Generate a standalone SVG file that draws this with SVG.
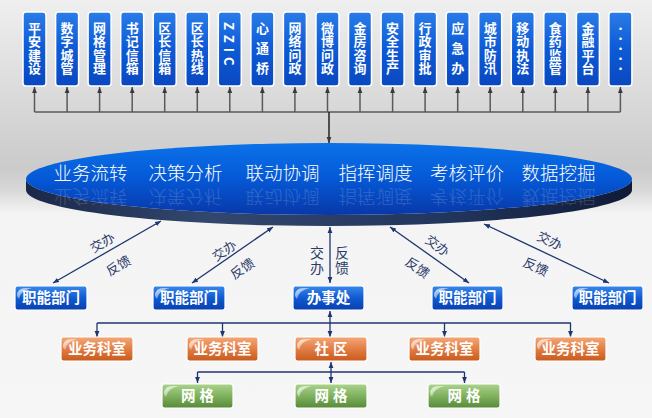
<svg xmlns="http://www.w3.org/2000/svg" width="652" height="418" viewBox="0 0 652 418">
<defs>
<linearGradient id="bg" x1="0" y1="0" x2="0" y2="1">
<stop offset="0" stop-color="#efefef"/>
<stop offset="0.40" stop-color="#cbcbcb"/>
<stop offset="0.45" stop-color="#d6d6d6"/>
<stop offset="0.51" stop-color="#f4f4f4"/>
<stop offset="1" stop-color="#f6f6f6"/>
</linearGradient>
<linearGradient id="gTop" x1="0" y1="0" x2="0" y2="1">
<stop offset="0" stop-color="#2a7ce8"/>
<stop offset="0.5" stop-color="#0d5ad6"/>
<stop offset="1" stop-color="#0a48c0"/>
</linearGradient>
<linearGradient id="gBlue" x1="0" y1="0" x2="0" y2="1">
<stop offset="0" stop-color="#3a88ea"/>
<stop offset="0.5" stop-color="#0f5ad2"/>
<stop offset="1" stop-color="#0a3fae"/>
</linearGradient>
<linearGradient id="gOrange" x1="0" y1="0" x2="0" y2="1">
<stop offset="0" stop-color="#f4a878"/>
<stop offset="0.5" stop-color="#e27d44"/>
<stop offset="1" stop-color="#c85a1c"/>
</linearGradient>
<linearGradient id="gGreen" x1="0" y1="0" x2="0" y2="1">
<stop offset="0" stop-color="#abd48c"/>
<stop offset="0.5" stop-color="#7fb15e"/>
<stop offset="1" stop-color="#558a38"/>
</linearGradient>
<linearGradient id="gDisc" x1="0" y1="0" x2="0" y2="1">
<stop offset="0" stop-color="#0a72ea"/>
<stop offset="0.5" stop-color="#0558d6"/>
<stop offset="1" stop-color="#0838a8"/>
</linearGradient>
<linearGradient id="gRim" x1="0" y1="0" x2="1" y2="0">
<stop offset="0" stop-color="#1a2848"/>
<stop offset="0.3" stop-color="#33476e"/>
<stop offset="0.7" stop-color="#22355c"/>
<stop offset="1" stop-color="#0f1a36"/>
</linearGradient>
<linearGradient id="gloss" x1="0" y1="0" x2="1" y2="1">
<stop offset="0" stop-color="#ffffff" stop-opacity="0.85"/>
<stop offset="1" stop-color="#ffffff" stop-opacity="0"/>
</linearGradient>
<marker id="ag" viewBox="0 0 10 10" refX="10" refY="5" markerWidth="6" markerHeight="6" orient="auto-start-reverse" markerUnits="userSpaceOnUse">
<path d="M0,1 L10,5 L0,9 z" fill="#3a3a3a"/>
</marker>
<marker id="ab" viewBox="0 0 10 10" refX="10" refY="5" markerWidth="6" markerHeight="6" orient="auto-start-reverse" markerUnits="userSpaceOnUse">
<path d="M0,1 L10,5 L0,9 z" fill="#1e3570"/>
</marker>
<style>
.top rect.b{fill:url(#gTop);stroke:#ffffff;stroke-width:1.5}
.top text{fill:#ffffff;font-family:"Noto Sans CJK SC","Liberation Sans",sans-serif;font-weight:bold;font-size:13px;writing-mode:vertical-rl;letter-spacing:0.5px}
.top text.w{letter-spacing:7px}
.box rect.b{stroke:#ffffff;stroke-width:1.2}
.box text{fill:#ffffff;font-family:"Noto Sans CJK SC","Liberation Sans",sans-serif;font-weight:bold;font-size:14.5px;text-anchor:middle}
.blue rect.b{fill:url(#gBlue)}
.orange rect.b{fill:url(#gOrange)}
.green rect.b{fill:url(#gGreen)}
.gl{fill:url(#gloss)}
.disc text{fill:#ffffff;font-family:"Noto Sans CJK SC","Liberation Sans",sans-serif;font-weight:300;font-size:18.5px;text-anchor:middle}
.gray{stroke:#5a5a5a;stroke-width:1.5;fill:none}
.lk{stroke:#1e3570;stroke-width:1.3;fill:none}
.lbl{fill:#2a3a6a;font-family:"Noto Sans CJK SC","Liberation Sans",sans-serif;font-size:13px;text-anchor:middle;dominant-baseline:central}
.vl{fill:#2a3a6a;font-family:"Noto Sans CJK SC","Liberation Sans",sans-serif;font-size:14px;writing-mode:vertical-rl;letter-spacing:1px}
</style>
</defs>
<rect x="0" y="0" width="652" height="418" fill="url(#bg)"/>

<g id="connectors">
<g id="top-links">
<line class="gray" x1="34.5" y1="112" x2="620.4" y2="112"/>
<line class="gray" x1="34.5" y1="112" x2="34.5" y2="87" marker-end="url(#ag)"/>
<line class="gray" x1="67.1" y1="112" x2="67.1" y2="87" marker-end="url(#ag)"/>
<line class="gray" x1="99.6" y1="112" x2="99.6" y2="87" marker-end="url(#ag)"/>
<line class="gray" x1="132.2" y1="112" x2="132.2" y2="87" marker-end="url(#ag)"/>
<line class="gray" x1="164.7" y1="112" x2="164.7" y2="87" marker-end="url(#ag)"/>
<line class="gray" x1="197.3" y1="112" x2="197.3" y2="87" marker-end="url(#ag)"/>
<line class="gray" x1="229.8" y1="112" x2="229.8" y2="87" marker-end="url(#ag)"/>
<line class="gray" x1="262.4" y1="112" x2="262.4" y2="87" marker-end="url(#ag)"/>
<line class="gray" x1="294.9" y1="112" x2="294.9" y2="87" marker-end="url(#ag)"/>
<line class="gray" x1="327.5" y1="112" x2="327.5" y2="87" marker-end="url(#ag)"/>
<line class="gray" x1="360" y1="112" x2="360" y2="87" marker-end="url(#ag)"/>
<line class="gray" x1="392.6" y1="112" x2="392.6" y2="87" marker-end="url(#ag)"/>
<line class="gray" x1="425.1" y1="112" x2="425.1" y2="87" marker-end="url(#ag)"/>
<line class="gray" x1="457.7" y1="112" x2="457.7" y2="87" marker-end="url(#ag)"/>
<line class="gray" x1="490.2" y1="112" x2="490.2" y2="87" marker-end="url(#ag)"/>
<line class="gray" x1="522.8" y1="112" x2="522.8" y2="87" marker-end="url(#ag)"/>
<line class="gray" x1="555.3" y1="112" x2="555.3" y2="87" marker-end="url(#ag)"/>
<line class="gray" x1="587.9" y1="112" x2="587.9" y2="87" marker-end="url(#ag)"/>
<line class="gray" x1="620.4" y1="112" x2="620.4" y2="87" marker-end="url(#ag)"/>
<line class="gray" x1="329" y1="112" x2="329" y2="143" marker-end="url(#ag)" style="stroke:#222"/>
</g>
<g id="dept-links">
<line class="lk" x1="161" y1="221" x2="53" y2="283" marker-start="url(#ab)" marker-end="url(#ab)"/>
<line class="lk" x1="273" y1="227" x2="192" y2="283" marker-start="url(#ab)" marker-end="url(#ab)"/>
<line class="lk" x1="330" y1="227" x2="330" y2="283" marker-start="url(#ab)" marker-end="url(#ab)"/>
<line class="lk" x1="390" y1="227" x2="469" y2="283" marker-start="url(#ab)" marker-end="url(#ab)"/>
<line class="lk" x1="484" y1="224" x2="609" y2="283" marker-start="url(#ab)" marker-end="url(#ab)"/>
<text class="lbl" transform="translate(102,242) rotate(-30)">交办</text>
<text class="lbl" transform="translate(118,265) rotate(-30)">反馈</text>
<text class="lbl" transform="translate(224,250) rotate(-34)">交办</text>
<text class="lbl" transform="translate(242,268) rotate(-34)">反馈</text>
<text class="lbl" transform="translate(438,245) rotate(35)">交办</text>
<text class="lbl" transform="translate(418,267) rotate(35)">反馈</text>
<text class="lbl" transform="translate(550,240) rotate(25)">交办</text>
<text class="lbl" transform="translate(536,266) rotate(25)">反馈</text>
<text class="vl" x="317" y="246">交办</text>
<text class="vl" x="342" y="246">反馈</text>
</g>
<g id="office-links">
<line class="lk" x1="330" y1="311" x2="330" y2="337" marker-start="url(#ab)" marker-end="url(#ab)"/>
<path class="lk" d="M97,323H571"/>
<line class="lk" x1="97" y1="323" x2="97" y2="337" marker-end="url(#ab)"/>
<line class="lk" x1="222.5" y1="323" x2="222.5" y2="337" marker-end="url(#ab)"/>
<line class="lk" x1="444.5" y1="323" x2="444.5" y2="337" marker-end="url(#ab)"/>
<line class="lk" x1="570.5" y1="323" x2="570.5" y2="337" marker-end="url(#ab)"/>
</g>
<g id="grid-links">
<line class="lk" x1="331" y1="362" x2="331" y2="383" marker-start="url(#ab)" marker-end="url(#ab)"/>
<path class="lk" d="M197.5,372H464.5"/>
<line class="lk" x1="197.5" y1="372" x2="197.5" y2="383" marker-end="url(#ab)"/>
<line class="lk" x1="464.5" y1="372" x2="464.5" y2="383" marker-end="url(#ab)"/>
</g>
</g>

<g id="platform" class="disc">
<path d="M26,179 V190 A303,36 0 0 0 632,190 V179 A303,36 0 0 1 26,179 Z" fill="url(#gRim)"/>
<ellipse cx="329" cy="179" rx="303" ry="36" fill="url(#gDisc)"/>
<text x="90.5" y="180">业务流转</text>
<text x="185.5" y="180">决策分析</text>
<text x="282.5" y="180">联动协调</text>
<text x="375.5" y="180">指挥调度</text>
<text x="467" y="180">考核评价</text>
<text x="558.5" y="180">数据挖掘</text>
<g transform="translate(0,370) scale(1,-1)" opacity="0.16">
<text x="90.5" y="180">业务流转</text>
<text x="185.5" y="180">决策分析</text>
<text x="282.5" y="180">联动协调</text>
<text x="375.5" y="180">指挥调度</text>
<text x="467" y="180">考核评价</text>
<text x="558.5" y="180">数据挖掘</text>
</g>
</g>

<g id="n1" class="top"><rect class="b" x="23" y="12" width="23" height="74" rx="3"/><text x="34.5" y="21.5">平安建设</text></g>
<g id="n2" class="top"><rect class="b" x="55.6" y="12" width="23" height="74" rx="3"/><text x="67.1" y="21.5">数字城管</text></g>
<g id="n3" class="top"><rect class="b" x="88.1" y="12" width="23" height="74" rx="3"/><text x="99.6" y="21.5">网格管理</text></g>
<g id="n4" class="top"><rect class="b" x="120.7" y="12" width="23" height="74" rx="3"/><text x="132.2" y="21.5">书记信箱</text></g>
<g id="n5" class="top"><rect class="b" x="153.2" y="12" width="23" height="74" rx="3"/><text x="164.7" y="21.5">区长信箱</text></g>
<g id="n6" class="top"><rect class="b" x="185.8" y="12" width="23" height="74" rx="3"/><text x="197.3" y="21.5">区长热线</text></g>
<g id="n7" class="top"><rect class="b" x="218.3" y="12" width="23" height="74" rx="3"/><text x="229.8" y="22" style="letter-spacing:5px">ZZIC</text></g>
<g id="n8" class="top"><rect class="b" x="250.9" y="12" width="23" height="74" rx="3"/><text class="w" x="262.4" y="21.5">心通桥</text></g>
<g id="n9" class="top"><rect class="b" x="283.4" y="12" width="23" height="74" rx="3"/><text x="294.9" y="21.5">网络问政</text></g>
<g id="n10" class="top"><rect class="b" x="316" y="12" width="23" height="74" rx="3"/><text x="327.5" y="21.5">微博问政</text></g>
<g id="n11" class="top"><rect class="b" x="348.5" y="12" width="23" height="74" rx="3"/><text x="360" y="21.5">金房咨询</text></g>
<g id="n12" class="top"><rect class="b" x="381.1" y="12" width="23" height="74" rx="3"/><text x="392.6" y="21.5">安全生产</text></g>
<g id="n13" class="top"><rect class="b" x="413.6" y="12" width="23" height="74" rx="3"/><text x="425.1" y="21.5">行政审批</text></g>
<g id="n14" class="top"><rect class="b" x="446.2" y="12" width="23" height="74" rx="3"/><text class="w" x="457.7" y="21.5">应急办</text></g>
<g id="n15" class="top"><rect class="b" x="478.7" y="12" width="23" height="74" rx="3"/><text x="490.2" y="21.5">城市防汛</text></g>
<g id="n16" class="top"><rect class="b" x="511.3" y="12" width="23" height="74" rx="3"/><text x="522.8" y="21.5">移动执法</text></g>
<g id="n17" class="top"><rect class="b" x="543.8" y="12" width="23" height="74" rx="3"/><text x="555.3" y="21.5">食药监管</text></g>
<g id="n18" class="top"><rect class="b" x="576.4" y="12" width="23" height="74" rx="3"/><text x="587.9" y="21.5">金融平台</text></g>
<g id="n19" class="top"><rect class="b" x="608.9" y="12" width="23" height="74" rx="3"/><text x="620.4" y="24.5" style="font-size:10px;letter-spacing:0">・・・・・</text></g>

<g id="d1" class="box blue"><rect class="b" x="15" y="286" width="72" height="24" rx="2.5"/><path class="gl" d="M17,296 Q17,288 26,288 L32,288 Q21,290 19,299 Z"/><text x="51" y="303">职能部门</text></g>
<g id="d2" class="box blue"><rect class="b" x="153" y="286" width="72" height="24" rx="2.5"/><path class="gl" d="M155,296 Q155,288 164,288 L170,288 Q159,290 157,299 Z"/><text x="189" y="303">职能部门</text></g>
<g id="office" class="box blue"><rect class="b" x="293" y="286" width="71" height="24" rx="2.5"/><path class="gl" d="M295,296 Q295,288 304,288 L310,288 Q299,290 297,299 Z"/><text x="328.5" y="303">办事处</text></g>
<g id="d3" class="box blue"><rect class="b" x="432" y="286" width="71" height="24" rx="2.5"/><path class="gl" d="M434,296 Q434,288 443,288 L449,288 Q438,290 436,299 Z"/><text x="467.5" y="303">职能部门</text></g>
<g id="d4" class="box blue"><rect class="b" x="572" y="286" width="71" height="24" rx="2.5"/><path class="gl" d="M574,296 Q574,288 583,288 L589,288 Q578,290 576,299 Z"/><text x="607.5" y="303">职能部门</text></g>

<g id="s1" class="box orange"><rect class="b" x="61" y="337" width="72" height="24" rx="2.5"/><path class="gl" d="M63,347 Q63,339 72,339 L78,339 Q67,341 65,350 Z"/><text x="97" y="354">业务科室</text></g>
<g id="s2" class="box orange"><rect class="b" x="187" y="337" width="71" height="24" rx="2.5"/><path class="gl" d="M189,347 Q189,339 198,339 L204,339 Q193,341 191,350 Z"/><text x="222.5" y="354">业务科室</text></g>
<g id="community" class="box orange"><rect class="b" x="295" y="337" width="72" height="24" rx="2.5"/><path class="gl" d="M297,347 Q297,339 306,339 L312,339 Q301,341 299,350 Z"/><text x="333" y="354" style="letter-spacing:4px">社区</text></g>
<g id="s3" class="box orange"><rect class="b" x="409" y="337" width="71" height="24" rx="2.5"/><path class="gl" d="M411,347 Q411,339 420,339 L426,339 Q415,341 413,350 Z"/><text x="444.5" y="354">业务科室</text></g>
<g id="s4" class="box orange"><rect class="b" x="535" y="337" width="71" height="24" rx="2.5"/><path class="gl" d="M537,347 Q537,339 546,339 L552,339 Q541,341 539,350 Z"/><text x="570.5" y="354">业务科室</text></g>

<g id="g1" class="box green"><rect class="b" x="162" y="384" width="71" height="24" rx="2.5"/><path class="gl" d="M164,394 Q164,386 173,386 L179,386 Q168,388 166,397 Z"/><text x="199.5" y="401" style="letter-spacing:4px">网格</text></g>
<g id="g2" class="box green"><rect class="b" x="295" y="384" width="72" height="24" rx="2.5"/><path class="gl" d="M297,394 Q297,386 306,386 L312,386 Q301,388 299,397 Z"/><text x="333" y="401" style="letter-spacing:4px">网格</text></g>
<g id="g3" class="box green"><rect class="b" x="428" y="384" width="72" height="24" rx="2.5"/><path class="gl" d="M430,394 Q430,386 439,386 L445,386 Q434,388 432,397 Z"/><text x="466" y="401" style="letter-spacing:4px">网格</text></g>
</svg>
